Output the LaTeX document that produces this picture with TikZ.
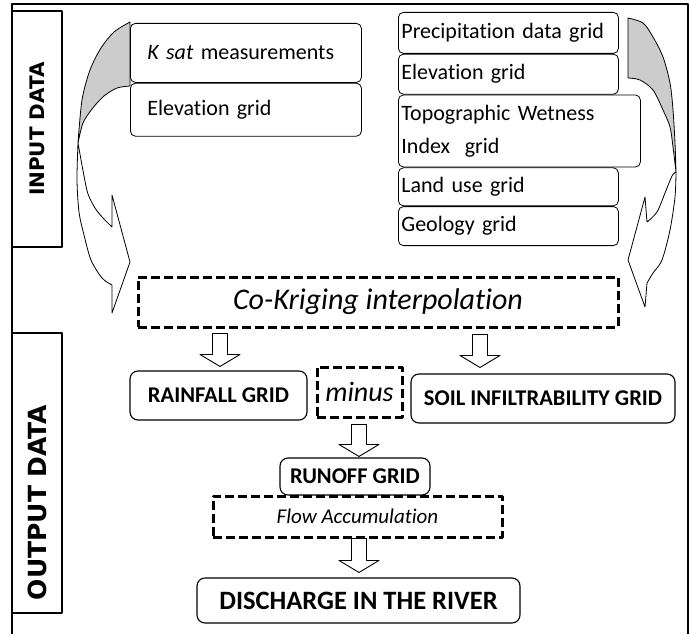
\documentclass[tikz,border=0pt]{standalone}
\usepackage{fontspec}
\setmainfont{Carlito}[Ligatures=NoCommon]
\newfontfamily\sidefont{DejaVu Sans}
\usetikzlibrary{calc}

\newcommand{\blockdown}[5]{%
  \draw[fill=white, line width=0.9pt] let \p1=(#1,0), \p2=(#2.south), \p3=(#3.north) in
    (\x1-7.5pt,\y2-#4pt) -- (\x1+7.5pt,\y2-#4pt) -- (\x1+7.5pt,\y3+#5pt+12pt) -- (\x1+20pt,\y3+#5pt+12pt)
    -- (\x1,\y3+#5pt) -- (\x1-20pt,\y3+#5pt+12pt) -- (\x1-7.5pt,\y3+#5pt+12pt) -- cycle;}

\begin{document}
\begin{tikzpicture}[x=1pt, y=-1pt, line join=round,
  sidebox/.style={draw, line width=1.5pt, rotate=90, inner sep=0pt},
  inbox/.style={draw, fill=white, line width=0.8pt, rounded corners=5pt, anchor=north west, align=left, inner ysep=0pt, font=\fontsize{22}{33}\selectfont},
  gridbox/.style={draw, fill=white, line width=1.1pt, rounded corners=8pt, inner sep=0pt, font=\bfseries\fontsize{22.5}{27}\selectfont},
  dashbox/.style={draw, line width=3pt, dash pattern=on 9pt off 4pt, inner sep=0pt},
  ribbon/.style={draw, line width=0.8pt}]
  \useasboundingbox (0,0) rectangle (690,634);
  \draw[line width=1.8pt] (12,634) -- (12,4) -- (688,4) -- (688,634);

  \node[sidebox, minimum width=236, minimum height=50, font=\sidefont\bfseries\fontsize{20}{24}\selectfont] (inlab) at (37,129) {INPUT DATA};
  \node[sidebox, minimum width=280, minimum height=50, text width=254, align=left, font=\sidefont\bfseries\fontsize{25}{29}\selectfont] (outlab) at (37,473) {OUTPUT DATA};

  % curved arrows
  \filldraw[ribbon, fill=gray!40] plot[smooth] coordinates {(130,22) (114,32) (101,48) (90,70) (82,100) (78,143)}
    -- plot[smooth] coordinates {(78,143) (83,123) (92,109) (104,96) (117,88) (130,86)} -- cycle;
  \filldraw[ribbon, fill=white] plot[smooth] coordinates {(78,143) (77,180) (79,212) (84,235) (91,260) (102,278) (112,285)}
    -- (112,313) -- (130,262) -- (112,195) -- (112,227)
    -- plot[smooth] coordinates {(112,227) (103,218) (95,208) (88,194) (84,176) (78,143)} -- cycle;
  \filldraw[ribbon, fill=gray!40] plot[smooth] coordinates {(628,18) (643,23) (653,37) (663,57) (670,83) (673,110) (675,143) (676,172)}
    -- plot[smooth] coordinates {(676,172) (673,147) (670,127) (663,110) (653,90) (640,80) (628,78)} -- cycle;
  \filldraw[ribbon, fill=white] plot[smooth] coordinates {(676,172) (675,197) (670,230) (662,260) (653,273) (647,283)}
    -- (645,307) -- (628,260) -- (645,197) -- (647,222)
    -- plot[smooth] coordinates {(647,222) (657,212) (665,193) (672,176) (676,172)} -- cycle;

  \node[inbox, inner xsep=17pt, text width=197pt, minimum height=59] (ksat) at (130,23) {\textit{K sat} measurements};
  \node[inbox, inner xsep=17pt, text width=197pt, minimum height=53] (elevl) at (ksat.south west) {Elevation grid};

  \node[inbox, inner xsep=3pt, text width=214pt, minimum height=41] (precip) at (398,12) {Precipitation data grid};
  \node[inbox, inner xsep=3pt, text width=214pt, minimum height=40] (elevr) at (precip.south west) {Elevation grid};
  \node[inbox, inner xsep=3pt, text width=236pt, minimum height=72] (topo) at (elevr.south west) {Topographic Wetness\\Index~~grid};
  \node[inbox, inner xsep=3pt, text width=214pt, minimum height=38] (landuse) at (topo.south west) {Land use grid};
  \node[inbox, inner xsep=3pt, text width=214pt, minimum height=39] (geology) at (landuse.south west) {Geology grid};

  \node[dashbox, minimum width=480, minimum height=50, font=\itshape\fontsize{30}{36}\selectfont] (krig) at (378,302) {Co-Kriging interpolation};
  \node[gridbox, minimum width=177, minimum height=49] (rain) at (218.5,395.5) {RAINFALL GRID};
  \node[dashbox, minimum width=85, minimum height=50, font=\itshape\fontsize{28}{32}\selectfont] (minus) at (359.5,392) {minus};
  \node[gridbox, minimum width=264, minimum height=49] (soil) at (543,398.5) {SOIL INFILTRABILITY GRID};
  \node[gridbox, minimum width=150, minimum height=37] (runoff) at (355,476.5) {RUNOFF GRID};
  \node[dashbox, minimum width=289, minimum height=41, font=\itshape\fontsize{21}{25}\selectfont] (flow) at (357.5,516.5) {Flow Accumulation};
  \node[gridbox, minimum width=323, minimum height=45, font=\bfseries\fontsize{26.5}{30}\selectfont] (river) at (358.5,600.5) {DISCHARGE IN THE RIVER};

  \foreach \col/\src/\dst/\topgap/\botgap in {220/krig/rain/5/4, 480/krig/soil/6/6, 359/minus/runoff/6/1, 359/flow/river/0/5}
    {\blockdown{\col}{\src}{\dst}{\topgap}{\botgap}}
\end{tikzpicture}
\end{document}
